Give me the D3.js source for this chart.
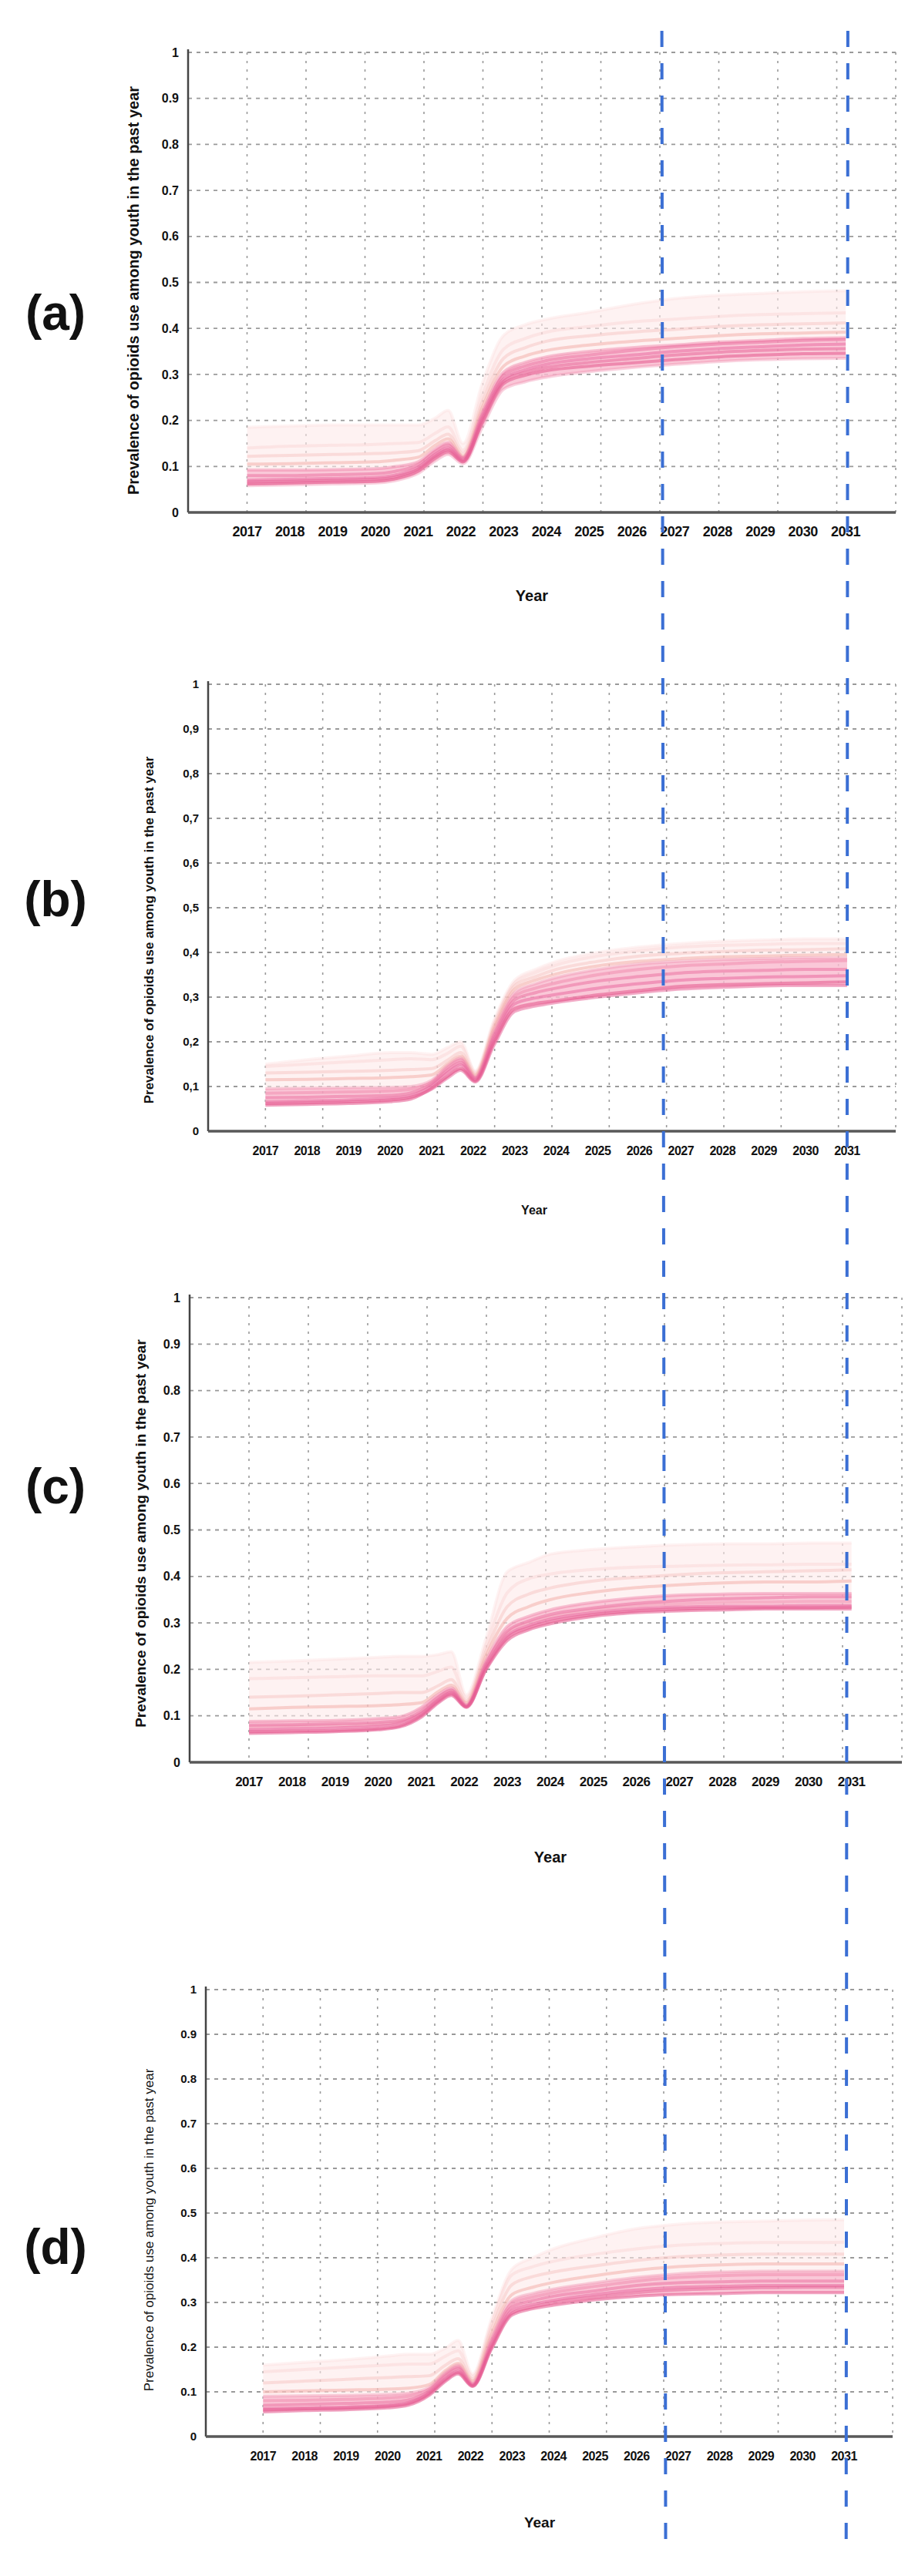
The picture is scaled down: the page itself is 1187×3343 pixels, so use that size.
<!DOCTYPE html>
<html>
<head>
<meta charset="utf-8">
<script src="https://cdn.jsdelivr.net/npm/d3@7"></script>
<style>
  body { margin: 0; background: #fff; }
  text { font-family: "Liberation Sans", Arial, sans-serif; fill: #111; }
</style>
</head>
<body>
<div id="chart"></div>
<script>

// time points shared by every simulation run
const timePoints = [2017, 2018, 2019, 2020, 2020.5, 2021, 2021.4, 2021.7, 2022.05, 2022.5,
                    2023, 2023.5, 2024, 2025, 2026, 2027, 2028, 2029, 2030, 2031];

const yearTicks = [2017, 2018, 2019, 2020, 2021, 2022, 2023, 2024, 2025, 2026, 2027, 2028, 2029, 2030, 2031];
const valueTicks = [0, 0.1, 0.2, 0.3, 0.4, 0.5, 0.6, 0.7, 0.8, 0.9, 1];
const markerYears = [2026.7, 2031.05];
const panelLetters = ["(a)", "(b)", "(c)", "(d)"];
const yTitle = "Prevalence of opioids use among youth in the past year";
const xTitle = "Year";

// runs (first 5 + last one = dense core, the rest lighter outliers)
const runsA = [
  [0.062,0.064,0.066,0.068,0.074,0.090,0.118,0.132,0.110,0.195,0.280,0.298,0.308,0.318,0.325,0.332,0.338,0.342,0.345,0.346],
  [0.070,0.072,0.074,0.076,0.082,0.098,0.126,0.140,0.114,0.205,0.290,0.310,0.322,0.334,0.342,0.350,0.356,0.360,0.364,0.366],
  [0.080,0.080,0.082,0.084,0.090,0.104,0.132,0.146,0.118,0.212,0.298,0.318,0.330,0.342,0.352,0.360,0.366,0.370,0.374,0.376],
  [0.092,0.092,0.093,0.095,0.100,0.110,0.138,0.152,0.120,0.218,0.305,0.326,0.338,0.350,0.358,0.364,0.370,0.374,0.378,0.380],
  [0.058,0.060,0.062,0.064,0.070,0.085,0.112,0.126,0.106,0.185,0.268,0.284,0.294,0.306,0.315,0.322,0.328,0.332,0.334,0.335],
  [0.105,0.106,0.108,0.110,0.114,0.120,0.146,0.160,0.122,0.228,0.318,0.340,0.352,0.364,0.372,0.378,0.384,0.388,0.390,0.392],
  [0.122,0.124,0.126,0.128,0.130,0.134,0.156,0.170,0.128,0.240,0.335,0.358,0.372,0.384,0.392,0.398,0.404,0.408,0.410,0.412],
  [0.140,0.144,0.146,0.148,0.150,0.152,0.172,0.186,0.135,0.255,0.355,0.378,0.392,0.404,0.414,0.420,0.426,0.430,0.432,0.434],
  [0.185,0.188,0.190,0.190,0.190,0.190,0.205,0.222,0.150,0.280,0.385,0.408,0.420,0.435,0.452,0.465,0.472,0.476,0.480,0.482],
  [0.066,0.068,0.070,0.072,0.078,0.094,0.122,0.136,0.112,0.200,0.285,0.304,0.315,0.326,0.334,0.342,0.348,0.352,0.355,0.356]
];

const runsB = [
  [0.058,0.060,0.062,0.066,0.072,0.096,0.124,0.140,0.112,0.198,0.275,0.286,0.292,0.305,0.315,0.324,0.328,0.330,0.332,0.334],
  [0.066,0.068,0.070,0.074,0.080,0.102,0.132,0.148,0.115,0.205,0.285,0.298,0.306,0.320,0.330,0.338,0.342,0.345,0.346,0.348],
  [0.075,0.076,0.078,0.080,0.086,0.106,0.138,0.154,0.118,0.212,0.294,0.310,0.320,0.336,0.346,0.354,0.358,0.360,0.362,0.362],
  [0.085,0.086,0.088,0.090,0.094,0.110,0.144,0.160,0.120,0.218,0.302,0.320,0.332,0.350,0.362,0.370,0.374,0.378,0.380,0.382],
  [0.095,0.096,0.097,0.098,0.100,0.114,0.148,0.164,0.122,0.224,0.310,0.330,0.344,0.362,0.374,0.380,0.384,0.386,0.388,0.388],
  [0.115,0.116,0.118,0.120,0.122,0.126,0.152,0.168,0.125,0.230,0.318,0.338,0.352,0.370,0.380,0.386,0.390,0.392,0.394,0.395],
  [0.130,0.132,0.134,0.136,0.138,0.140,0.160,0.176,0.128,0.236,0.326,0.346,0.362,0.380,0.392,0.398,0.402,0.405,0.406,0.408],
  [0.145,0.150,0.155,0.160,0.162,0.160,0.175,0.190,0.132,0.242,0.332,0.355,0.372,0.392,0.404,0.412,0.416,0.418,0.420,0.420],
  [0.150,0.160,0.168,0.176,0.176,0.172,0.188,0.200,0.135,0.248,0.338,0.362,0.380,0.400,0.412,0.420,0.425,0.428,0.430,0.430],
  [0.062,0.064,0.066,0.070,0.076,0.094,0.120,0.136,0.110,0.192,0.268,0.280,0.288,0.300,0.310,0.318,0.322,0.325,0.326,0.326]
];

const runsC = [
  [0.062,0.064,0.066,0.070,0.076,0.097,0.128,0.144,0.118,0.198,0.262,0.285,0.298,0.314,0.322,0.326,0.328,0.330,0.330,0.330],
  [0.070,0.072,0.074,0.078,0.084,0.104,0.134,0.150,0.120,0.205,0.272,0.294,0.308,0.322,0.330,0.334,0.336,0.336,0.337,0.337],
  [0.080,0.081,0.083,0.086,0.090,0.110,0.140,0.155,0.122,0.212,0.282,0.304,0.318,0.332,0.342,0.348,0.352,0.354,0.356,0.356],
  [0.088,0.089,0.090,0.094,0.098,0.118,0.146,0.160,0.124,0.218,0.292,0.314,0.328,0.344,0.354,0.360,0.362,0.363,0.363,0.363],
  [0.076,0.078,0.079,0.082,0.087,0.106,0.137,0.152,0.121,0.208,0.278,0.300,0.313,0.328,0.337,0.341,0.344,0.345,0.346,0.346],
  [0.115,0.118,0.120,0.122,0.124,0.128,0.152,0.166,0.128,0.228,0.310,0.335,0.350,0.366,0.376,0.382,0.386,0.388,0.388,0.390],
  [0.140,0.142,0.145,0.148,0.150,0.150,0.165,0.178,0.132,0.238,0.335,0.362,0.375,0.390,0.398,0.404,0.408,0.410,0.412,0.414],
  [0.180,0.182,0.184,0.186,0.186,0.186,0.196,0.205,0.138,0.250,0.365,0.395,0.405,0.415,0.420,0.422,0.424,0.425,0.426,0.426],
  [0.215,0.218,0.222,0.226,0.228,0.228,0.232,0.238,0.145,0.265,0.410,0.430,0.448,0.458,0.464,0.468,0.470,0.470,0.472,0.472],
  [0.066,0.067,0.068,0.072,0.078,0.100,0.131,0.147,0.119,0.200,0.268,0.290,0.303,0.318,0.326,0.330,0.332,0.333,0.333,0.334]
];

const runsD = [
  [0.055,0.058,0.060,0.064,0.070,0.092,0.124,0.140,0.112,0.195,0.272,0.286,0.294,0.306,0.314,0.318,0.320,0.322,0.322,0.322],
  [0.062,0.064,0.066,0.070,0.076,0.098,0.130,0.146,0.114,0.202,0.282,0.296,0.305,0.318,0.328,0.334,0.336,0.338,0.338,0.338],
  [0.070,0.072,0.074,0.077,0.082,0.102,0.136,0.152,0.116,0.208,0.290,0.304,0.314,0.326,0.338,0.344,0.346,0.348,0.348,0.348],
  [0.080,0.081,0.083,0.086,0.090,0.106,0.140,0.156,0.118,0.214,0.298,0.312,0.322,0.336,0.348,0.356,0.360,0.362,0.362,0.362],
  [0.090,0.091,0.092,0.094,0.097,0.110,0.144,0.160,0.120,0.220,0.305,0.320,0.330,0.344,0.356,0.364,0.368,0.370,0.370,0.370],
  [0.100,0.102,0.104,0.106,0.108,0.116,0.148,0.164,0.124,0.228,0.318,0.334,0.345,0.360,0.372,0.380,0.384,0.386,0.386,0.386],
  [0.120,0.124,0.128,0.132,0.134,0.136,0.160,0.174,0.128,0.240,0.340,0.358,0.368,0.382,0.394,0.402,0.406,0.408,0.408,0.408],
  [0.145,0.150,0.155,0.160,0.162,0.162,0.180,0.192,0.134,0.252,0.362,0.380,0.392,0.408,0.420,0.428,0.432,0.434,0.434,0.435],
  [0.160,0.166,0.172,0.180,0.184,0.184,0.198,0.215,0.140,0.262,0.375,0.400,0.420,0.445,0.465,0.475,0.480,0.482,0.484,0.485],
  [0.060,0.062,0.064,0.068,0.074,0.095,0.127,0.143,0.113,0.198,0.276,0.290,0.300,0.312,0.322,0.328,0.331,0.333,0.334,0.334]
];

// ---- layout ----
const W = 1187, H = 3343;
const xDomain = [2015.62, 2032.17];   // the plotting frame runs a bit past the years

const panels = [
  {runs: runsA, left: 244, right: 1162, top: 68,   bottom: 665,  letterY: 428,  ylabX: 173, ylabY: 377,  ylabSize: 20, ylabWeight: "bold", yearX: 690, yearY: 773,  yearSize: 20, tickSize: 18, vtickSize: 16, sep: "."},
  {runs: runsB, left: 270, right: 1162, top: 888,  bottom: 1468, letterY: 1189, ylabX: 193, ylabY: 1207, ylabSize: 17, ylabWeight: "bold", yearX: 693, yearY: 1570, yearSize: 16, tickSize: 16, vtickSize: 15, sep: ","},
  {runs: runsC, left: 246, right: 1170, top: 1684, bottom: 2287, letterY: 1951, ylabX: 182, ylabY: 1990, ylabSize: 19, ylabWeight: "bold", yearX: 714, yearY: 2410, yearSize: 20, tickSize: 17, vtickSize: 16, sep: "."},
  {runs: runsD, left: 267, right: 1158, top: 2582, bottom: 3162, letterY: 2938, ylabX: 193, ylabY: 2894, ylabSize: 17, ylabWeight: "normal", yearX: 700, yearY: 3273, yearSize: 19, tickSize: 16, vtickSize: 15, sep: "."}
];

// style for each run index
const runStyle = [
  {c: "#e4568c", o: 0.55}, {c: "#e8609a", o: 0.5}, {c: "#ea6a9c", o: 0.5}, {c: "#ef7fa6", o: 0.45},
  {c: "#f08fb0", o: 0.4},  {c: "#f2a19c", o: 0.45}, {c: "#f6b8b6", o: 0.4}, {c: "#f9cccb", o: 0.35},
  {c: "#fcdede", o: 0.35}, {c: "#e65c92", o: 0.5}
];
const coreIdx = [0, 1, 2, 3, 4, 9];

const svg = d3.select("#chart").append("svg")
  .attr("width", W).attr("height", H)
  .style("display", "block");

svg.append("rect").attr("width", W).attr("height", H).attr("fill", "#fff");

const scales = [];

panels.forEach((p, pi) => {
  const x = d3.scaleLinear().domain(xDomain).range([p.left, p.right]);
  const y = d3.scaleLinear().domain([0, 1]).range([p.bottom, p.top]);
  scales.push(x);

  const g = svg.append("g");

  // grid: 12 equal columns, horizontal at each tick
  const gridX = d3.range(1, 13).map(k => xDomain[0] + k * (xDomain[1] - xDomain[0]) / 12);
  g.selectAll(".vg").data(gridX).join("line")
    .attr("x1", d => x(d)).attr("x2", d => x(d))
    .attr("y1", p.top).attr("y2", p.bottom)
    .attr("stroke", "#9a9a9a").attr("stroke-width", 1.6)
    .attr("stroke-dasharray", "3,8");
  g.selectAll(".hg").data(valueTicks.slice(1)).join("line")
    .attr("x1", p.left).attr("x2", p.right)
    .attr("y1", d => y(d)).attr("y2", d => y(d))
    .attr("stroke", "#9a9a9a").attr("stroke-width", 1.8)
    .attr("stroke-dasharray", "5,6");

  // envelopes computed from the runs
  const env = timePoints.map((t, i) => {
    const all = p.runs.map(r => r[i]);
    const core = coreIdx.map(k => p.runs[k][i]);
    return {t, lo: d3.min(all), hi: d3.max(all), clo: d3.min(core), chi: d3.max(core)};
  });

  const curve = d3.curveMonotoneX;
  g.append("path").datum(env)
    .attr("d", d3.area().curve(curve).x(d => x(d.t)).y0(d => y(d.lo)).y1(d => y(d.hi)))
    .attr("fill", "#fdeaea").attr("opacity", 0.6);
  g.append("path").datum(env)
    .attr("d", d3.area().curve(curve).x(d => x(d.t)).y0(d => y(d.clo)).y1(d => y(d.chi)))
    .attr("fill", "#f5a6c2").attr("opacity", 0.55);

  const line = d3.line().curve(curve).x(d => x(d[0])).y(d => y(d[1]));
  // light ones first, core on top
  const order = [8, 7, 6, 5, 4, 3, 2, 1, 0, 9];
  order.forEach(k => {
    g.append("path")
      .datum(timePoints.map((t, i) => [t, p.runs[k][i]]))
      .attr("d", line)
      .attr("fill", "none")
      .attr("stroke", runStyle[k].c)
      .attr("stroke-opacity", runStyle[k].o)
      .attr("stroke-width", 4);
  });

  // axes
  g.append("line")
    .attr("x1", p.left).attr("x2", p.left)
    .attr("y1", p.top - 4).attr("y2", p.bottom)
    .attr("stroke", "#444").attr("stroke-width", 2.5);
  g.append("line")
    .attr("x1", p.left).attr("x2", p.right)
    .attr("y1", p.bottom).attr("y2", p.bottom)
    .attr("stroke", "#585858").attr("stroke-width", 3.5);

  // tick labels
  g.selectAll(".yt").data(valueTicks).join("text")
    .attr("x", p.left - 12).attr("y", d => y(d))
    .attr("dy", "0.35em")
    .attr("text-anchor", "end")
    .style("font-size", p.vtickSize + "px").style("font-weight", "bold")
    .text(d => d === 0 || d === 1 ? String(d) : String(d).replace(".", p.sep));

  g.selectAll(".xt").data(yearTicks).join("text")
    .attr("x", d => x(d)).attr("y", p.bottom + 25)
    .attr("dy", "0.35em")
    .attr("text-anchor", "middle")
    .style("font-size", p.tickSize + "px").style("font-weight", "bold")
    .style("letter-spacing", "-0.5px")
    .text(d => d);

  // titles
  g.append("text")
    .attr("transform", `translate(${p.ylabX},${p.ylabY}) rotate(-90)`)
    .attr("dy", "0.35em")
    .attr("text-anchor", "middle")
    .style("font-size", p.ylabSize + "px").style("font-weight", p.ylabWeight)
    .text(yTitle);

  g.append("text")
    .attr("x", p.yearX).attr("y", p.yearY)
    .attr("dy", "0.35em")
    .attr("text-anchor", "middle")
    .style("font-size", p.yearSize + "px").style("font-weight", "bold")
    .text(xTitle);

  g.append("text")
    .attr("x", 72).attr("y", p.letterY)
    .attr("text-anchor", "middle")
    .style("font-size", "64px").style("font-weight", "bold")
    .text(panelLetters[pi]);
});

// blue dashed markers running through all four panels
const xTop = scales[0], xBot = scales[3];
svg.selectAll(".marker").data(markerYears).join("line")
  .attr("x1", d => xTop(d)).attr("y1", 40)
  .attr("x2", d => xBot(d)).attr("y2", 3300)
  .attr("stroke", "#3b6fd4").attr("stroke-width", 4)
  .attr("stroke-dasharray", "21,21");

</script>
</body>
</html>
